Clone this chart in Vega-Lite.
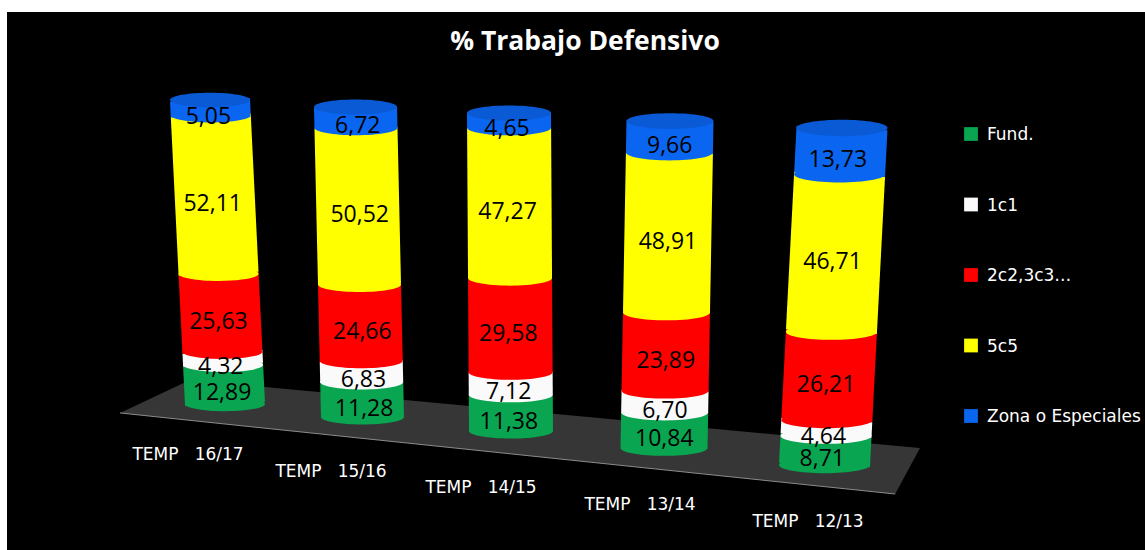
{"$schema":"https://vega.github.io/schema/vega-lite/v6.json","width":1138,"height":538,"autosize":{"type":"none"},"padding":{"left":7,"top":12,"right":0,"bottom":0},"background":"#ffffff","view":{"stroke":null},
"config":{"text":{"font":"Open Sans"},"legend":{"disable":true}},
"data":{"values":[
{"temp":"TEMP \u00a0\u00a016/17","serie":"Fund.","orden":1,"valor":12.89,"etiqueta":"12,89"},{"temp":"TEMP \u00a0\u00a016/17","serie":"1c1","orden":2,"valor":4.32,"etiqueta":"4,32"},{"temp":"TEMP \u00a0\u00a016/17","serie":"2c2,3c3…","orden":3,"valor":25.63,"etiqueta":"25,63"},{"temp":"TEMP \u00a0\u00a016/17","serie":"5c5","orden":4,"valor":52.11,"etiqueta":"52,11"},{"temp":"TEMP \u00a0\u00a016/17","serie":"Zona o Especiales","orden":5,"valor":5.05,"etiqueta":"5,05"},
{"temp":"TEMP \u00a0\u00a015/16","serie":"Fund.","orden":1,"valor":11.28,"etiqueta":"11,28"},{"temp":"TEMP \u00a0\u00a015/16","serie":"1c1","orden":2,"valor":6.83,"etiqueta":"6,83"},{"temp":"TEMP \u00a0\u00a015/16","serie":"2c2,3c3…","orden":3,"valor":24.66,"etiqueta":"24,66"},{"temp":"TEMP \u00a0\u00a015/16","serie":"5c5","orden":4,"valor":50.52,"etiqueta":"50,52"},{"temp":"TEMP \u00a0\u00a015/16","serie":"Zona o Especiales","orden":5,"valor":6.72,"etiqueta":"6,72"},
{"temp":"TEMP \u00a0\u00a014/15","serie":"Fund.","orden":1,"valor":11.38,"etiqueta":"11,38"},{"temp":"TEMP \u00a0\u00a014/15","serie":"1c1","orden":2,"valor":7.12,"etiqueta":"7,12"},{"temp":"TEMP \u00a0\u00a014/15","serie":"2c2,3c3…","orden":3,"valor":29.58,"etiqueta":"29,58"},{"temp":"TEMP \u00a0\u00a014/15","serie":"5c5","orden":4,"valor":47.27,"etiqueta":"47,27"},{"temp":"TEMP \u00a0\u00a014/15","serie":"Zona o Especiales","orden":5,"valor":4.65,"etiqueta":"4,65"},
{"temp":"TEMP \u00a0\u00a013/14","serie":"Fund.","orden":1,"valor":10.84,"etiqueta":"10,84"},{"temp":"TEMP \u00a0\u00a013/14","serie":"1c1","orden":2,"valor":6.70,"etiqueta":"6,70"},{"temp":"TEMP \u00a0\u00a013/14","serie":"2c2,3c3…","orden":3,"valor":23.89,"etiqueta":"23,89"},{"temp":"TEMP \u00a0\u00a013/14","serie":"5c5","orden":4,"valor":48.91,"etiqueta":"48,91"},{"temp":"TEMP \u00a0\u00a013/14","serie":"Zona o Especiales","orden":5,"valor":9.66,"etiqueta":"9,66"},
{"temp":"TEMP \u00a0\u00a012/13","serie":"Fund.","orden":1,"valor":8.71,"etiqueta":"8,71"},{"temp":"TEMP \u00a0\u00a012/13","serie":"1c1","orden":2,"valor":4.64,"etiqueta":"4,64"},{"temp":"TEMP \u00a0\u00a012/13","serie":"2c2,3c3…","orden":3,"valor":26.21,"etiqueta":"26,21"},{"temp":"TEMP \u00a0\u00a012/13","serie":"5c5","orden":4,"valor":46.71,"etiqueta":"46,71"},{"temp":"TEMP \u00a0\u00a012/13","serie":"Zona o Especiales","orden":5,"valor":13.73,"etiqueta":"13,73"}
]},
"resolve":{"scale":{"x":"independent","y":"independent"}},
"layer":[
{"data":{"values":[{"fondo":1}]},"mark":{"type":"rect","color":"#000000"},"encoding":{}},
{"data":{"values":[{"u":0,"v0":28.9,"v1":28.9},{"u":8.75,"v0":0,"v1":35.4},{"u":96.9,"v0":57.6,"v1":100},{"u":100,"v0":59.6,"v1":59.6}]},
"encoding":{"x":{"field":"u","type":"quantitative","scale":{"domain":[0,100],"range":[113,913]},"axis":null}},
"layer":[
{"mark":{"type":"area","color":"#363636"},"encoding":{"y":{"field":"v0","type":"quantitative","scale":{"domain":[0,100],"range":[368,482]},"axis":null},"y2":{"field":"v1"}}},
{"transform":[{"filter":"datum.u<99"}],"mark":{"type":"line","color":"#8c8c8c","strokeWidth":1},"encoding":{"y":{"field":"v1","type":"quantitative","scale":{"domain":[0,100],"range":[368,482]},"axis":null}}}
]},
{"transform":[{"filter":"indexof(datum.temp,'16/17')>=0"},{"stack":"valor","groupby":["temp"],"sort":[{"field":"orden","order":"ascending"}],"as":["y0","y1"]}],
"encoding":{"x":{"field":"c","type":"quantitative","scale":{"domain":[0,100],"range":[218,203]},"axis":null},"y":{"field":"c","type":"quantitative","scale":{"domain":[0,100],"range":[392,88]},"axis":null}},
"layer":[
{"transform":[{"fold":["y0","y1"],"as":["borde","c"]}],"mark":{"type":"line","strokeWidth":80,"strokeCap":"butt"},"encoding":{"stroke":{"field":"serie","type":"nominal","legend":null,"scale":{"domain":["Fund.","1c1","2c2,3c3…","5c5","Zona o Especiales"],"range":["#0aa550","#fafafa","#ff0000","#ffff00","#0a66f0"]}}}},
{"transform":[{"calculate":"datum.y0","as":"c"}],"mark":{"type":"point","filled":true,"opacity":1,"size":6400,"shape":"M-1,0C-1,-0.1,-0.55,-0.18,0,-0.18C0.55,-0.18,1,-0.1,1,0C1,0.1,0.55,0.18,0,0.18C-0.55,0.18,-1,0.1,-1,0Z"},"encoding":{"fill":{"field":"serie","type":"nominal","scale":{"domain":["Fund.","1c1","2c2,3c3…","5c5","Zona o Especiales"],"range":["#0aa550","#fafafa","#ff0000","#ffff00","#0a66f0"]}}}},
{"transform":[{"filter":"datum.orden==5"},{"calculate":"datum.y1","as":"c"}],"mark":{"type":"point","filled":true,"opacity":1,"size":6400,"color":"#0a5ad6","shape":"M-1,0C-1,-0.1,-0.55,-0.18,0,-0.18C0.55,-0.18,1,-0.1,1,0C1,0.1,0.55,0.18,0,0.18C-0.55,0.18,-1,0.1,-1,0Z"}},
{"transform":[{"calculate":"(datum.y0+datum.y1)/2","as":"c"}],"mark":{"type":"text","color":"#000000","fontSize":23,"dx":-2,"dy":9},"encoding":{"text":{"field":"etiqueta"}}},
{"transform":[{"filter":"datum.orden==1"},{"calculate":"datum.y0","as":"c"}],"mark":{"type":"text","color":"#ffffff","font":"DejaVu Sans","fontSize":17,"dx":-37,"dy":51},"encoding":{"text":{"field":"temp"}}}
]},
{"transform":[{"filter":"indexof(datum.temp,'15/16')>=0"},{"stack":"valor","groupby":["temp"],"sort":[{"field":"orden","order":"ascending"}],"as":["y0","y1"]}],
"encoding":{"x":{"field":"c","type":"quantitative","scale":{"domain":[0,100],"range":[355.5,348.5]},"axis":null},"y":{"field":"c","type":"quantitative","scale":{"domain":[0,100],"range":[405,95]},"axis":null}},
"layer":[
{"transform":[{"fold":["y0","y1"],"as":["borde","c"]}],"mark":{"type":"line","strokeWidth":83,"strokeCap":"butt"},"encoding":{"stroke":{"field":"serie","type":"nominal","legend":null,"scale":{"domain":["Fund.","1c1","2c2,3c3…","5c5","Zona o Especiales"],"range":["#0aa550","#fafafa","#ff0000","#ffff00","#0a66f0"]}}}},
{"transform":[{"calculate":"datum.y0","as":"c"}],"mark":{"type":"point","filled":true,"opacity":1,"size":6889,"shape":"M-1,0C-1,-0.1,-0.55,-0.18,0,-0.18C0.55,-0.18,1,-0.1,1,0C1,0.1,0.55,0.18,0,0.18C-0.55,0.18,-1,0.1,-1,0Z"},"encoding":{"fill":{"field":"serie","type":"nominal","scale":{"domain":["Fund.","1c1","2c2,3c3…","5c5","Zona o Especiales"],"range":["#0aa550","#fafafa","#ff0000","#ffff00","#0a66f0"]}}}},
{"transform":[{"filter":"datum.orden==5"},{"calculate":"datum.y1","as":"c"}],"mark":{"type":"point","filled":true,"opacity":1,"size":6889,"color":"#0a5ad6","shape":"M-1,0C-1,-0.1,-0.55,-0.18,0,-0.18C0.55,-0.18,1,-0.1,1,0C1,0.1,0.55,0.18,0,0.18C-0.55,0.18,-1,0.1,-1,0Z"}},
{"transform":[{"calculate":"(datum.y0+datum.y1)/2","as":"c"}],"mark":{"type":"text","color":"#000000","fontSize":23,"dx":2,"dy":9},"encoding":{"text":{"field":"etiqueta"}}},
{"transform":[{"filter":"datum.orden==1"},{"calculate":"datum.y0","as":"c"}],"mark":{"type":"text","color":"#ffffff","font":"DejaVu Sans","fontSize":17,"dx":-31.5,"dy":55},"encoding":{"text":{"field":"temp"}}}
]},
{"transform":[{"filter":"indexof(datum.temp,'14/15')>=0"},{"stack":"valor","groupby":["temp"],"sort":[{"field":"orden","order":"ascending"}],"as":["y0","y1"]}],
"encoding":{"x":{"field":"c","type":"quantitative","scale":{"domain":[0,100],"range":[504,502]},"axis":null},"y":{"field":"c","type":"quantitative","scale":{"domain":[0,100],"range":[419,101]},"axis":null}},
"layer":[
{"transform":[{"fold":["y0","y1"],"as":["borde","c"]}],"mark":{"type":"line","strokeWidth":84,"strokeCap":"butt"},"encoding":{"stroke":{"field":"serie","type":"nominal","legend":null,"scale":{"domain":["Fund.","1c1","2c2,3c3…","5c5","Zona o Especiales"],"range":["#0aa550","#fafafa","#ff0000","#ffff00","#0a66f0"]}}}},
{"transform":[{"calculate":"datum.y0","as":"c"}],"mark":{"type":"point","filled":true,"opacity":1,"size":7056,"shape":"M-1,0C-1,-0.1,-0.55,-0.18,0,-0.18C0.55,-0.18,1,-0.1,1,0C1,0.1,0.55,0.18,0,0.18C-0.55,0.18,-1,0.1,-1,0Z"},"encoding":{"fill":{"field":"serie","type":"nominal","scale":{"domain":["Fund.","1c1","2c2,3c3…","5c5","Zona o Especiales"],"range":["#0aa550","#fafafa","#ff0000","#ffff00","#0a66f0"]}}}},
{"transform":[{"filter":"datum.orden==5"},{"calculate":"datum.y1","as":"c"}],"mark":{"type":"point","filled":true,"opacity":1,"size":7056,"color":"#0a5ad6","shape":"M-1,0C-1,-0.1,-0.55,-0.18,0,-0.18C0.55,-0.18,1,-0.1,1,0C1,0.1,0.55,0.18,0,0.18C-0.55,0.18,-1,0.1,-1,0Z"}},
{"transform":[{"calculate":"(datum.y0+datum.y1)/2","as":"c"}],"mark":{"type":"text","color":"#000000","fontSize":23,"dx":-2,"dy":9},"encoding":{"text":{"field":"etiqueta"}}},
{"transform":[{"filter":"datum.orden==1"},{"calculate":"datum.y0","as":"c"}],"mark":{"type":"text","color":"#ffffff","font":"DejaVu Sans","fontSize":17,"dx":-30,"dy":57},"encoding":{"text":{"field":"temp"}}}
]},
{"transform":[{"filter":"indexof(datum.temp,'13/14')>=0"},{"stack":"valor","groupby":["temp"],"sort":[{"field":"orden","order":"ascending"}],"as":["y0","y1"]}],
"encoding":{"x":{"field":"c","type":"quantitative","scale":{"domain":[0,100],"range":[657,663]},"axis":null},"y":{"field":"c","type":"quantitative","scale":{"domain":[0,100],"range":[436,109]},"axis":null}},
"layer":[
{"transform":[{"fold":["y0","y1"],"as":["borde","c"]}],"mark":{"type":"line","strokeWidth":87,"strokeCap":"butt"},"encoding":{"stroke":{"field":"serie","type":"nominal","legend":null,"scale":{"domain":["Fund.","1c1","2c2,3c3…","5c5","Zona o Especiales"],"range":["#0aa550","#fafafa","#ff0000","#ffff00","#0a66f0"]}}}},
{"transform":[{"calculate":"datum.y0","as":"c"}],"mark":{"type":"point","filled":true,"opacity":1,"size":7569,"shape":"M-1,0C-1,-0.1,-0.55,-0.18,0,-0.18C0.55,-0.18,1,-0.1,1,0C1,0.1,0.55,0.18,0,0.18C-0.55,0.18,-1,0.1,-1,0Z"},"encoding":{"fill":{"field":"serie","type":"nominal","scale":{"domain":["Fund.","1c1","2c2,3c3…","5c5","Zona o Especiales"],"range":["#0aa550","#fafafa","#ff0000","#ffff00","#0a66f0"]}}}},
{"transform":[{"filter":"datum.orden==5"},{"calculate":"datum.y1","as":"c"}],"mark":{"type":"point","filled":true,"opacity":1,"size":7569,"color":"#0a5ad6","shape":"M-1,0C-1,-0.1,-0.55,-0.18,0,-0.18C0.55,-0.18,1,-0.1,1,0C1,0.1,0.55,0.18,0,0.18C-0.55,0.18,-1,0.1,-1,0Z"}},
{"transform":[{"calculate":"(datum.y0+datum.y1)/2","as":"c"}],"mark":{"type":"text","color":"#000000","fontSize":23,"dx":0,"dy":9},"encoding":{"text":{"field":"etiqueta"}}},
{"transform":[{"filter":"datum.orden==1"},{"calculate":"datum.y0","as":"c"}],"mark":{"type":"text","color":"#ffffff","font":"DejaVu Sans","fontSize":17,"dx":-24,"dy":57},"encoding":{"text":{"field":"temp"}}}
]},
{"transform":[{"filter":"indexof(datum.temp,'12/13')>=0"},{"stack":"valor","groupby":["temp"],"sort":[{"field":"orden","order":"ascending"}],"as":["y0","y1"]}],
"encoding":{"x":{"field":"c","type":"quantitative","scale":{"domain":[0,100],"range":[817.5,835]},"axis":null},"y":{"field":"c","type":"quantitative","scale":{"domain":[0,100],"range":[453,116]},"axis":null}},
"layer":[
{"transform":[{"fold":["y0","y1"],"as":["borde","c"]}],"mark":{"type":"line","strokeWidth":91,"strokeCap":"butt"},"encoding":{"stroke":{"field":"serie","type":"nominal","legend":null,"scale":{"domain":["Fund.","1c1","2c2,3c3…","5c5","Zona o Especiales"],"range":["#0aa550","#fafafa","#ff0000","#ffff00","#0a66f0"]}}}},
{"transform":[{"calculate":"datum.y0","as":"c"}],"mark":{"type":"point","filled":true,"opacity":1,"size":8281,"shape":"M-1,0C-1,-0.1,-0.55,-0.18,0,-0.18C0.55,-0.18,1,-0.1,1,0C1,0.1,0.55,0.18,0,0.18C-0.55,0.18,-1,0.1,-1,0Z"},"encoding":{"fill":{"field":"serie","type":"nominal","scale":{"domain":["Fund.","1c1","2c2,3c3…","5c5","Zona o Especiales"],"range":["#0aa550","#fafafa","#ff0000","#ffff00","#0a66f0"]}}}},
{"transform":[{"filter":"datum.orden==5"},{"calculate":"datum.y1","as":"c"}],"mark":{"type":"point","filled":true,"opacity":1,"size":8281,"color":"#0a5ad6","shape":"M-1,0C-1,-0.1,-0.55,-0.18,0,-0.18C0.55,-0.18,1,-0.1,1,0C1,0.1,0.55,0.18,0,0.18C-0.55,0.18,-1,0.1,-1,0Z"}},
{"transform":[{"calculate":"(datum.y0+datum.y1)/2","as":"c"}],"mark":{"type":"text","color":"#000000","fontSize":23,"dx":-3,"dy":9},"encoding":{"text":{"field":"etiqueta"}}},
{"transform":[{"filter":"datum.orden==1"},{"calculate":"datum.y0","as":"c"}],"mark":{"type":"text","color":"#ffffff","font":"DejaVu Sans","fontSize":17,"dx":-16.5,"dy":57},"encoding":{"text":{"field":"temp"}}}
]},
{"data":{"values":[{"serie":"Fund."},{"serie":"1c1"},{"serie":"2c2,3c3…"},{"serie":"5c5"},{"serie":"Zona o Especiales"}]},
"encoding":{"x":{"datum":0,"type":"quantitative","scale":{"domain":[0,1],"range":[964,1138]},"axis":null},"y":{"field":"serie","type":"nominal","sort":null,"scale":{"type":"point","domain":["Fund.","1c1","2c2,3c3…","5c5","Zona o Especiales"],"range":[122,404],"padding":0},"axis":null}},
"layer":[
{"mark":{"type":"point","filled":true,"opacity":1,"shape":"square","size":190},"encoding":{"fill":{"field":"serie","type":"nominal","scale":{"domain":["Fund.","1c1","2c2,3c3…","5c5","Zona o Especiales"],"range":["#0aa550","#fafafa","#ff0000","#ffff00","#0a66f0"]}}}},
{"mark":{"type":"text","align":"left","color":"#ffffff","font":"DejaVu Sans","fontSize":17,"dx":16,"dy":1},"encoding":{"text":{"field":"serie"}}}
]},
{"data":{"values":[{"titulo":"% Trabajo Defensivo"}]},"mark":{"type":"text","color":"#ffffff","font":"Open Sans","fontSize":26.5,"fontWeight":"bold","dx":9,"dy":-239},"encoding":{"text":{"field":"titulo"}}}
]}
